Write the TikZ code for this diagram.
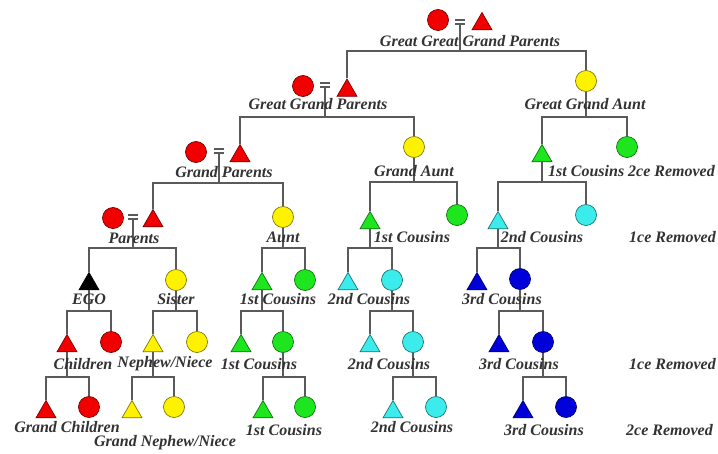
\documentclass[tikz,border=0pt]{standalone}
\usepackage{fontspec}
\setmainfont{Liberation Serif}
\usetikzlibrary{shapes.geometric}
\definecolor{cred}{HTML}{F20000}
\definecolor{cyel}{HTML}{FFF200}
\definecolor{cgrn}{HTML}{1EE61E}
\definecolor{ccyn}{HTML}{3CEBEB}
\definecolor{cblu}{HTML}{0000D8}
\definecolor{cblk}{HTML}{000000}
\definecolor{lin}{HTML}{5A5A5A}
\begin{document}
\begin{tikzpicture}[x=1pt,y=-1pt,
  fem/.style={circle,minimum size=21pt,inner sep=0pt,line width=0.7pt,fill=#1,draw=#1!50!black},
  mal/.style={regular polygon,regular polygon sides=3,minimum size=23pt,inner sep=0pt,line width=0.7pt,fill=#1,draw=#1!50!black},
  lab/.style={font=\bfseries\itshape\fontsize{16}{18}\selectfont,text=black!80,inner sep=0pt},
  ln/.style={draw=lin,line width=1.3pt},
  equal/.pic={\draw[draw=lin,line width=1.1pt] (-5,-2)--(5,-2) (-5,2)--(5,2);}]
\fill[white] (0,0) rectangle (718,453);
\useasboundingbox (0,0) rectangle (718,453);

% ---- persons ----
% gen 0
\node[fem=cred] (g0m) at (438,20) {};
\pic at (460,22) {equal};
\coordinate (eq0) at (460,24);
\node[mal=cred] (g0f) at (482,24) {};
% gen 1
\node[fem=cred] (g1m) at (303,86) {};
\pic at (325,85) {equal};
\coordinate (eq1) at (325,87);
\node[mal=cred] (g1f) at (347,90.5) {};
\node[fem=cyel] (gga) at (586,81) {};
% gen 2
\node[fem=cred] (g2m) at (196,152) {};
\pic at (219,151) {equal};
\coordinate (eq2) at (219,153);
\node[mal=cred] (g2f) at (240,156) {};
\node[fem=cyel] (ga) at (414,147) {};
\node[mal=cgrn] (c1a) at (542,156) {};
\node[fem=cgrn] (c1b) at (627,147) {};
% gen 3
\node[fem=cred] (g3m) at (113,218) {};
\pic at (133,217) {equal};
\coordinate (eq3) at (133,219);
\node[mal=cred] (g3f) at (153,221) {};
\node[fem=cyel] (aunt) at (283,217) {};
\node[mal=cgrn] (d1a) at (370,223) {};
\node[fem=cgrn] (d1b) at (457,215) {};
\node[mal=ccyn] (d2a) at (498,223) {};
\node[fem=ccyn] (d2b) at (586,215) {};
% gen 4
\node[mal=cblk] (ego) at (89,284) {};
\node[fem=cyel] (sis) at (176,280) {};
\node[mal=cgrn] (e1a) at (262,284) {};
\node[fem=cgrn] (e1b) at (305,280) {};
\node[mal=ccyn] (e2a) at (348,284) {};
\node[fem=ccyn] (e2b) at (392,280) {};
\node[mal=cblu] (e3a) at (477,284) {};
\node[fem=cblu] (e3b) at (520,279) {};
% gen 5
\node[mal=cred] (f0a) at (67,346) {};
\node[fem=cred] (f0b) at (111,342) {};
\node[mal=cyel] (f1a) at (153,346) {};
\node[fem=cyel] (f1b) at (197,342) {};
\node[mal=cgrn] (f2a) at (241,346) {};
\node[fem=cgrn] (f2b) at (283,342) {};
\node[mal=ccyn] (f3a) at (370,346) {};
\node[fem=ccyn] (f3b) at (413,342) {};
\node[mal=cblu] (f4a) at (499,346) {};
\node[fem=cblu] (f4b) at (543,342) {};
% gen 6
\node[mal=cred] (h0a) at (46,412) {};
\node[fem=cred] (h0b) at (89,407) {};
\node[mal=cyel] (h1a) at (132,412) {};
\node[fem=cyel] (h1b) at (174,407) {};
\node[mal=cgrn] (h2a) at (263,412) {};
\node[fem=cgrn] (h2b) at (305,407) {};
\node[mal=ccyn] (h3a) at (393,412) {};
\node[fem=ccyn] (h3b) at (436,407) {};
\node[mal=cblu] (h4a) at (523,412) {};
\node[fem=cblu] (h4b) at (566,407) {};

% ---- bar points ----
\coordinate (b0) at (460,51);
\coordinate (b1) at (325,117);
\coordinate (b1r) at (586,117);
\coordinate (b2) at (219,183);
\coordinate (b2m) at (414,182);
\coordinate (b2r) at (542,182);
\coordinate (b3) at (133,248);
\coordinate (b3a) at (283,248);
\coordinate (b3b) at (370,248);
\coordinate (b3c) at (498,248);
\coordinate (b4a) at (89,311);
\coordinate (b4b) at (176,311);
\coordinate (b4c) at (262,311);
\coordinate (b4d) at (392,311);
\coordinate (b4e) at (520,311);
\coordinate (b5a) at (67,377);
\coordinate (b5b) at (153,377);
\coordinate (b5c) at (283,377);
\coordinate (b5d) at (413,377);
\coordinate (b5e) at (543,377);

% ---- connectors ----
\draw[ln] (eq0) -- (b0) (b0) -| (g1f.north) (b0) -| (gga.north);
\draw[ln] (eq1) -- (b1) (b1) -| (g2f.north) (b1) -| (ga.north);
\draw[ln] (gga.south) -- (b1r) (b1r) -| (c1a.north) (b1r) -| (c1b.north);
\draw[ln] (eq2) -- (b2) (b2) -| (g3f.north) (b2) -| (aunt.north);
\draw[ln] (ga.south) -- (b2m) (b2m) -| (d1a.north) (b2m) -| (d1b.north);
\draw[ln] (c1a.south) -- (b2r) (b2r) -| (d2a.north) (b2r) -| (d2b.north);
\draw[ln] (eq3) -- (b3) (b3) -| (ego.north) (b3) -| (sis.north);
\draw[ln] (aunt.south) -- (b3a) (b3a) -| (e1a.north) (b3a) -| (e1b.north);
\draw[ln] (d1a.south) -- (b3b) (b3b) -| (e2a.north) (b3b) -| (e2b.north);
\draw[ln] (d2a.south) -- (b3c) (b3c) -| (e3a.north) (b3c) -| (e3b.north);
\draw[ln] (ego.south) -- (b4a) (b4a) -| (f0a.north) (b4a) -| (f0b.north);
\draw[ln] (sis.south) -- (b4b) (b4b) -| (f1a.north) (b4b) -| (f1b.north);
\draw[ln] (e1a.south) -- (b4c) (b4c) -| (f2a.north) (b4c) -| (f2b.north);
\draw[ln] (e2b.south) -- (b4d) (b4d) -| (f3a.north) (b4d) -| (f3b.north);
\draw[ln] (e3b.south) -- (b4e) (b4e) -| (f4a.north) (b4e) -| (f4b.north);
\draw[ln] (f0a.south) -- (b5a) (b5a) -| (h0a.north) (b5a) -| (h0b.north);
\draw[ln] (f1a.south) -- (b5b) (b5b) -| (h1a.north) (b5b) -| (h1b.north);
\draw[ln] (f2b.south) -- (b5c) (b5c) -| (h2a.north) (b5c) -| (h2b.north);
\draw[ln] (f3b.south) -- (b5d) (b5d) -| (h3a.north) (b5d) -| (h3b.north);
\draw[ln] (f4b.south) -- (b5e) (b5e) -| (h4a.north) (b5e) -| (h4b.north);

% ---- labels ----
\node[lab] (t0) at (470,41) {Great Great Grand Parents};
\node[lab] (t1) at (318,104) {Great Grand Parents};
\node[lab] (t1r) at (585,104) {Great Grand Aunt};
\node[lab] (t2) at (224,172) {Grand Parents};
\node[lab] (t2m) at (414,171) {Grand Aunt};
\node[lab,anchor=west] (t2r) at (548,171) {1st Cousins};
\node[lab,anchor=east] (r1) at (715,171) {2ce Removed};
\node[lab] (t3) at (134,238) {Parents};
\node[lab] (t3a) at (283,237) {Aunt};
\node[lab] (t3b) at (412,237) {1st Cousins};
\node[lab] (t3c) at (542,237) {2nd Cousins};
\node[lab,anchor=east] (r2) at (716,237) {1ce Removed};
\node[lab] (t4a) at (89,299) {EGO};
\node[lab] (t4b) at (176,299) {Sister};
\node[lab] (t4c) at (278,299) {1st Cousins};
\node[lab] (t4d) at (369,299) {2nd Cousins};
\node[lab] (t4e) at (502,299) {3rd Cousins};
\node[lab] (t5a) at (83,364) {Children};
\node[lab] (t5b) at (165,364) {Nephew/Niece};
\node[lab] (t5c) at (259,364) {1st Cousins};
\node[lab] (t5d) at (389,364) {2nd Cousins};
\node[lab] (t5e) at (519,364) {3rd Cousins};
\node[lab,anchor=east] (r3) at (716,364) {1ce Removed};
\node[lab] (t6a) at (67,427) {Grand Children};
\node[lab] (t6b) at (165,443) {Grand Nephew/Niece};
\node[lab] (t6c) at (284,430) {1st Cousins};
\node[lab] (t6d) at (412,427) {2nd Cousins};
\node[lab] (t6e) at (544,430) {3rd Cousins};
\node[lab,anchor=east] (r4) at (713,430) {2ce Removed};
\end{tikzpicture}
\end{document}
